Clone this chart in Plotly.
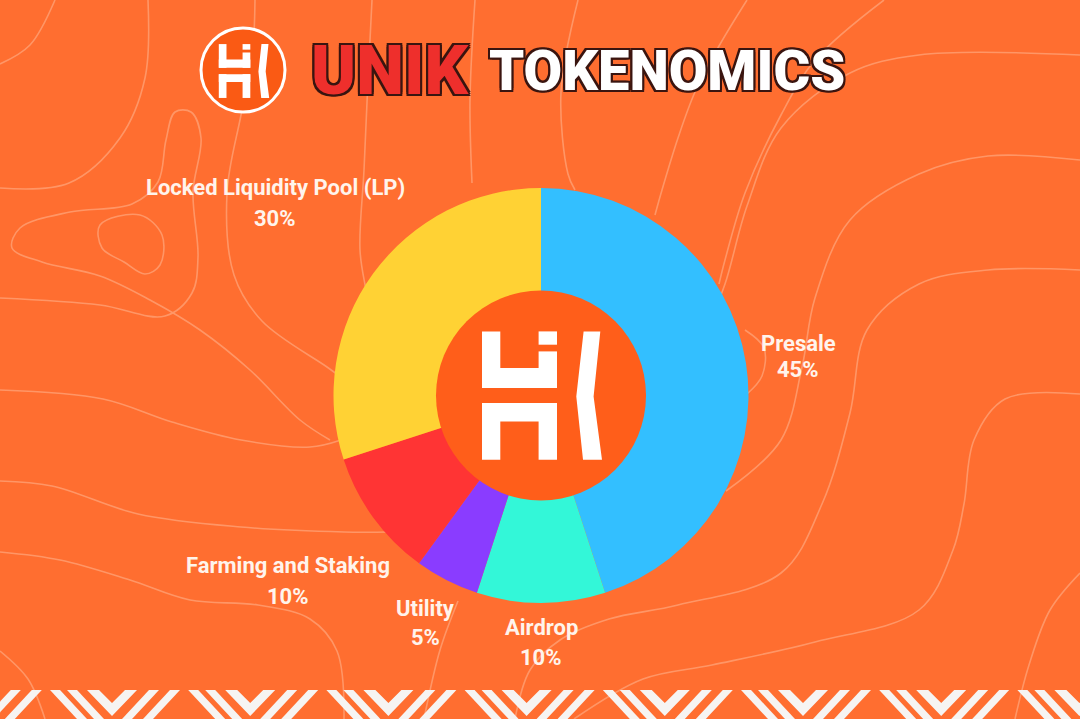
import plotly.graph_objects as go

# ---------------- data ----------------
categories = ["Presale", "Airdrop", "Utility", "Farming and Staking", "Locked Liquidity Pool (LP)"]
shares = [45, 10, 5, 10, 30]
slice_colors = ["#33BFFF", "#33F7D8", "#8A3CFF", "#FF3434", "#FFD234"]
title_brand = "UNIK"
title_word = "TOKENOMICS"

# ---------------- layout constants ----------------
W, H = 1080, 719
BG = "#FF6E30"
HOLE = "#FF5E1A"
CX, CY, R_OUT, R_IN = 541, 395.5, 207.5, 105
LABEL_FONT = dict(family="Roboto, Arial, sans-serif", size=22, color="#FFF4EC", weight="bold")
# label anchor positions (x, name line y, percent line y) in pixel space
label_pos = {
    "Presale": (798, 343, 369),
    "Airdrop": (541, 627, 657),
    "Utility": (425, 608, 637),
    "Farming and Staking": (288, 565, 596),
    "Locked Liquidity Pool (LP)": (275, 187, 218),
}

fig = go.Figure()

# ---------------- background contour lines (decoration) ----------------
contours = [
    [(0, 64), (30, 45), (55, 0)],
    [(0, 188), (69, 183), (120, 138), (145, 78), (148, 0)],
    [(0, 298), (100, 305), (165, 316), (192, 293), (198, 257), (193, 192), (201, 138), (191, 112),
     (175, 112), (166, 140), (158, 182), (132, 204), (70, 212), (20, 228), (12, 248), (42, 262), (100, 276),
     (150, 300), (200, 330), (250, 370), (300, 420), (330, 440)],
    [(100, 225), (140, 215), (162, 235), (160, 265), (145, 274), (124, 262), (102, 248), (100, 225)],
    [(255, 0), (252, 60), (241, 115), (227, 193), (234, 275), (262, 321), (327, 367), (345, 380)],
    [(372, 0), (368, 80), (364, 170), (360, 250), (366, 290), (372, 320)],
    [(475, 0), (470, 100), (472, 183)],
    [(0, 390), (103, 399), (172, 422), (241, 440), (310, 447), (341, 440)],
    [(0, 481), (52, 486), (138, 514), (241, 527), (344, 532), (389, 532)],
    [(0, 552), (60, 560), (130, 580), (190, 600), (258, 605), (310, 619), (337, 651), (344, 719)],
    [(0, 651), (28, 679), (45, 719)],
    [(458, 601), (440, 650), (424, 719)],
    [(578, 0), (561, 92), (568, 174), (575, 190)],
    [(747, 0), (719, 46), (695, 92), (678, 138), (662, 190), (655, 215)],
    [(884, 0), (815, 60), (781, 115), (745, 193), (725, 260), (719, 284)],
    [(1080, 55), (919, 55), (850, 73), (781, 128), (747, 206), (725, 284), (710, 320), (690, 350)],
    [(1080, 160), (988, 156), (919, 174), (850, 220), (815, 298), (802, 367), (781, 440), (726, 491)],
    [(1080, 270), (988, 270), (919, 284), (867, 330), (850, 413), (822, 504), (781, 573), (678, 605),
     (609, 619), (560, 640), (530, 670), (515, 719)],
    [(1080, 394), (1005, 399), (974, 440), (964, 504), (953, 550), (919, 610), (815, 642), (712, 665),
     (643, 679), (574, 719)],
    [(1080, 573), (1050, 610), (1029, 665), (1015, 719)],
    [(745, 330), (764, 348), (762, 376), (747, 394)],
]
for pts in contours:
    fig.add_trace(go.Scatter(
        x=[p[0] for p in pts], y=[p[1] for p in pts], mode="lines",
        line=dict(color="rgba(255,222,200,0.36)", width=1.6, shape="spline", smoothing=1.0),
        hoverinfo="skip", showlegend=False))

# ---------------- donut ----------------
fig.add_trace(go.Pie(
    labels=categories, values=shares, marker=dict(colors=slice_colors, line=dict(width=0)),
    hole=0.5, sort=False, direction="clockwise", rotation=0, textinfo="none",
    hoverinfo="label+percent", showlegend=False,
    domain=dict(x=[(CX - R_OUT) / W, (CX + R_OUT) / W],
                y=[(H - CY - R_OUT) / H, (H - CY + R_OUT) / H]),
))

shapes = []
# hole disc
shapes.append(dict(type="circle", xref="x", yref="y", x0=CX - R_IN, x1=CX + R_IN, y0=CY - R_IN, y1=CY + R_IN,
                   fillcolor=HOLE, line=dict(width=0), layer="above"))


def glyph(cx, cy, s):
    ox, oy = 121.7, 95.8
    rects = [(61.7, 31.7, 80, 88.3), (61.7, 68.3, 136.7, 88.3), (118.3, 51.7, 136.7, 88.3),
             (118.3, 31.7, 136.7, 45), (61.7, 103.3, 136.7, 121.7), (61.7, 103.3, 80, 160),
             (118.3, 103.3, 136.7, 160)]
    polys = [[(x0, y0), (x1, y0), (x1, y1), (x0, y1)] for x0, y0, x1, y1 in rects]
    polys.append([(163.3, 31.7), (180, 31.7), (173.3, 96.7), (181.7, 160), (162.7, 160), (156, 96.7)])
    out = []
    for poly in polys:
        pts = [(cx + (px - ox) * s, cy + (py - oy) * s) for px, py in poly]
        path = "M " + " L ".join(f"{x:.2f},{y:.2f}" for x, y in pts) + " Z"
        out.append(dict(type="path", xref="x", yref="y", path=path, fillcolor="white",
                        line=dict(width=0), layer="above"))
    return out


shapes += glyph(CX + 1, CY, 1.0)

# title logo
TL = (243, 70, 42)
shapes.append(dict(type="circle", xref="x", yref="y", x0=TL[0] - TL[2], x1=TL[0] + TL[2],
                   y0=TL[1] - TL[2], y1=TL[1] + TL[2], fillcolor="#FA5A14",
                   line=dict(color="white", width=3), layer="above"))
shapes += glyph(TL[0] + 1, TL[1] + 1, 0.42)

# bottom chevron band
WHITE = "#F6F4F2"
top, bot = 690, 719
th = 10
run = 27


def add_path(p):
    shapes.append(dict(type="path", xref="x", yref="y", path=p, fillcolor=WHITE, line=dict(width=0),
                       layer="above"))


c = 112 - 138.2 * 2
while c < W + 200:
    # V chevron
    add_path(f"M {c-25:.1f},{top} L {c-13:.1f},{top} L {c:.1f},{top+13} L {c+13:.1f},{top} "
             f"L {c+25:.1f},{top} L {c:.1f},{bot-3} Z")
    # two "/" stripes right of the V
    for b in (c + 10, c + 31):
        add_path(f"M {b:.1f},{bot} L {b+th:.1f},{bot} L {b+th+run:.1f},{top} L {b+run:.1f},{top} Z")
    # two "\" stripes left of the V
    for t in (c - 62, c - 45):
        add_path(f"M {t:.1f},{top} L {t+th:.1f},{top} L {t+th+run:.1f},{bot} L {t+run:.1f},{bot} Z")
    c += 138.2

# ---------------- annotations ----------------
annotations = []
for name, val in zip(categories, shares):
    x, y1, y2 = label_pos[name]
    annotations.append(dict(x=x, y=y1, xref="x", yref="y", text=name, showarrow=False, font=LABEL_FONT))
    annotations.append(dict(x=x, y=y2, xref="x", yref="y", text=f"{val}%", showarrow=False, font=LABEL_FONT))

outline_dark = "#3A1510"
sh = ", ".join(f"{dx}px {dy}px 0 {outline_dark}" for dx, dy in
               [(2, 0), (-2, 0), (0, 2), (0, -2), (2, 2), (-2, -2), (2, -2), (-2, 2)])
annotations.append(dict(x=390, y=71, xref="x", yref="y", text=title_brand, showarrow=False,
                        font=dict(family="Roboto, Arial, sans-serif", size=68, color="#EE2F2C", weight=900,
                                  shadow=sh)))
annotations.append(dict(x=667, y=71, xref="x", yref="y", text=title_word, showarrow=False,
                        font=dict(family="Roboto, Arial, sans-serif", size=56, color="white", weight=900,
                                  shadow=sh)))

fig.update_layout(
    width=W, height=H, margin=dict(l=0, r=0, t=0, b=0),
    paper_bgcolor=BG, plot_bgcolor=BG,
    xaxis=dict(range=[0, W], visible=False, fixedrange=True, domain=[0, 1]),
    yaxis=dict(range=[H, 0], visible=False, fixedrange=True, domain=[0, 1]),
    shapes=shapes, annotations=annotations, showlegend=False,
)

fig.write_html("out.html", include_plotlyjs=True, config={"displayModeBar": False})
